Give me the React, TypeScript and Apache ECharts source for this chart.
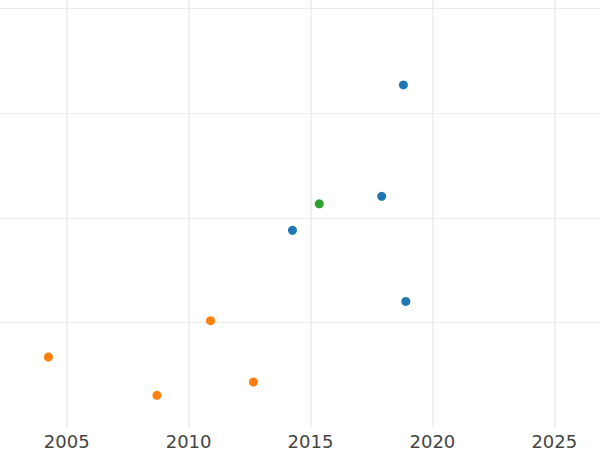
import React, { useEffect, useRef } from "react";
import * as echarts from "echarts";

const blueYears = [2018.81, 2017.92, 2014.26, 2018.91];
const blueValues = [3.27, 2.205, 1.88, 1.2];
const orangeYears = [2004.25, 2008.7, 2010.9, 2012.66];
const orangeValues = [0.669, 0.303, 1.016, 0.43];
const greenYears = [2015.36];
const greenValues = [2.133];
const xTicks = [2005, 2010, 2015, 2020, 2025];

const pairs = (xs: number[], ys: number[]) => xs.map((x, i) => [x, ys[i]]);

export default function App() {
  const ref = useRef<HTMLDivElement>(null);
  useEffect(() => {
    if (!ref.current) return;
    const chart = echarts.init(ref.current, null, { renderer: "svg" });
    const grid = "#ebebeb";
    chart.setOption({
      animation: false,
      backgroundColor: "#ffffff",
      grid: { left: 4.8, right: 3.8, top: 3.9, bottom: 22.2, containLabel: false },
      xAxis: {
        type: "value",
        min: 2000,
        max: 2030,
        interval: 5,
        axisLine: { show: false },
        axisTick: { show: false },
        splitLine: { show: true, lineStyle: { color: grid, width: 1.5 } },
        axisLabel: {
          fontFamily: "DejaVu Sans",
          fontSize: 18,
          color: "#444444",
          margin: 5,
          formatter: (v: number) => (xTicks.includes(v) ? String(v) : ""),
        },
      },
      yAxis: {
        type: "value",
        min: 0,
        max: 5,
        interval: 1,
        axisLine: { show: false },
        axisTick: { show: false },
        axisLabel: { show: false },
        splitLine: { show: true, showMinLine: false, lineStyle: { color: grid, width: 1 } },
      },
      series: [
        {
          name: "blue",
          type: "scatter",
          symbolSize: 9,
          itemStyle: { color: "#1f77b4", opacity: 1 },
          data: pairs(blueYears, blueValues),
        },
        {
          name: "orange",
          type: "scatter",
          symbolSize: 9,
          itemStyle: { color: "#ff7f0e", opacity: 1 },
          data: pairs(orangeYears, orangeValues),
        },
        {
          name: "green",
          type: "scatter",
          symbolSize: 9,
          itemStyle: { color: "#2ca02c", opacity: 1 },
          data: pairs(greenYears, greenValues),
        },
      ],
    });
    return () => chart.dispose();
  }, []);
  return (
    <div
      ref={ref}
      style={{ position: "fixed", left: -60, top: -100, width: 740, height: 550, background: "#fff" }}
    />
  );
}
